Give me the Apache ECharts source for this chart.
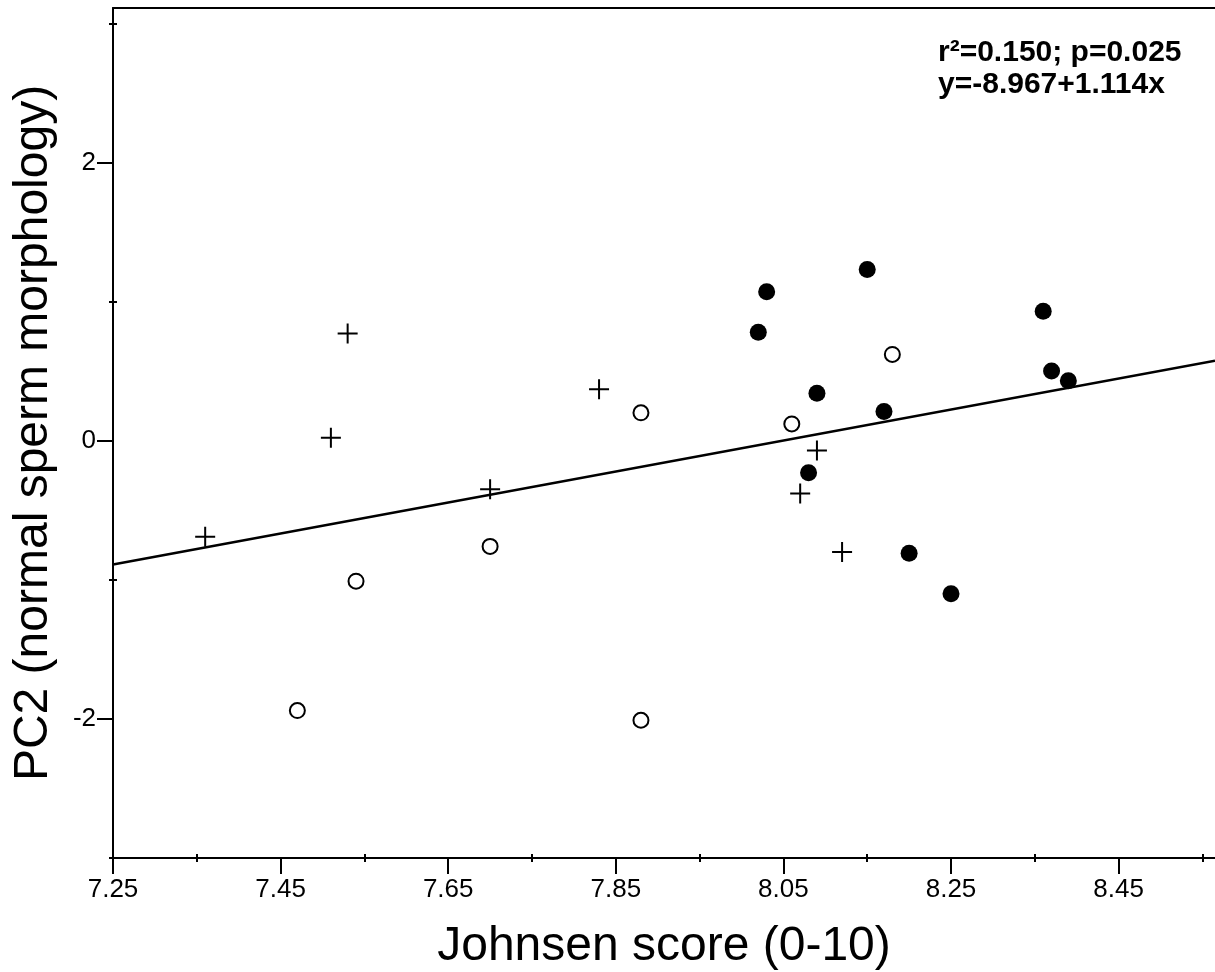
<!DOCTYPE html>
<html>
<head>
<meta charset="utf-8">
<script src="https://cdn.jsdelivr.net/npm/echarts@6/dist/echarts.min.js"></script>
<style>
  html, body { margin: 0; padding: 0; background: #fff; }
  #chart { width: 1215px; height: 972px; }
</style>
</head>
<body>
<div id="chart"></div>
<script>
// values
const crossX = [7.36, 7.53, 7.51, 7.70, 7.83, 8.09, 8.07, 8.12]
const crossY = [-0.69, 0.77, 0.02, -0.35, 0.37, -0.07, -0.38, -0.80]

const openX = [7.47, 7.54, 7.70, 7.88, 7.88, 8.06, 8.18]
const openY = [-1.94, -1.01, -0.76, 0.20, -2.01, 0.12, 0.62]

const filledX = [8.03, 8.02, 8.15, 8.36, 8.37, 8.39, 8.09, 8.17, 8.08, 8.20, 8.25]
const filledY = [1.07, 0.78, 1.23, 0.93, 0.50, 0.43, 0.34, 0.21, -0.23, -0.81, -1.10]

// regression from the figure's annotation
const intercept = -8.967
const slope = 1.114

const xMin = 7.25
const xMax = 8.565
const yMin = -3
const yMax = 3.11

const xMajorTicks = [7.25, 7.45, 7.65, 7.85, 8.05, 8.25, 8.45]
const xMinorTicks = [7.35, 7.55, 7.75, 7.95, 8.15, 8.35, 8.55]
const yMajorTicks = [-2, 0, 2]
const yMinorTicks = [-3, -1, 1, 3]

const statText = 'r²=0.150; p=0.025\ny=-8.967+1.114x'

const FONT = '"Liberation Sans", Arial, Helvetica, sans-serif'
const INK = '#000'

const zip = (xs, ys) => xs.map((x, i) => [x, ys[i]])

// bare axis used only to draw a set of ticks
function tickAxis(pos, min, max, values, opts) {
  return {
    type: 'value',
    position: pos,
    offset: opts.offset || 0,
    min: min,
    max: max,
    axisLine: { show: false, onZero: false },
    axisTick: { show: true, inside: !!opts.inside, length: opts.length, lineStyle: { color: INK, width: 2 }, customValues: values },
    axisLabel: { show: false },
    splitLine: { show: false },
  }
}

const chart = echarts.init(document.getElementById('chart'))

chart.setOption({
  animation: false,
  backgroundColor: '#fff',
  grid: { left: 113, right: 0, top: 8, bottom: 114, containLabel: false, outerBoundsMode: 'none' },
  xAxis: [
    {
      type: 'value',
      position: 'bottom',
      min: xMin,
      max: xMax,
      name: 'Johnsen score (0-10)',
      nameLocation: 'middle',
      nameGap: 65,
      nameTextStyle: { color: INK, fontFamily: FONT, fontSize: 48 },
      axisLine: { show: true, onZero: false, lineStyle: { color: INK, width: 2 } },
      axisTick: { show: true, inside: false, length: 16, lineStyle: { color: INK, width: 2 }, customValues: xMajorTicks },
      axisLabel: {
        color: INK, fontFamily: FONT, fontSize: 26, margin: 19,
        customValues: xMajorTicks,
        formatter: (v) => v.toFixed(2),
      },
      splitLine: { show: false },
    },
    // small ticks crossing the bottom axis
    tickAxis('bottom', xMin, xMax, xMinorTicks, { offset: 4, inside: true, length: 8 }),
    {
      // top frame line
      type: 'value',
      position: 'top',
      min: xMin,
      max: xMax,
      axisLine: { show: true, onZero: false, lineStyle: { color: INK, width: 2 } },
      axisTick: { show: false },
      axisLabel: { show: false },
      splitLine: { show: false },
    },
  ],
  yAxis: [
    {
      type: 'value',
      position: 'left',
      min: yMin,
      max: yMax,
      name: 'PC2 (normal sperm morphology)',
      nameLocation: 'middle',
      nameGap: 55,
      nameTextStyle: { color: INK, fontFamily: FONT, fontSize: 48 },
      axisLine: { show: true, onZero: false, lineStyle: { color: INK, width: 2 } },
      axisTick: { show: true, inside: false, length: 16, lineStyle: { color: INK, width: 2 }, customValues: yMajorTicks },
      axisLabel: { color: INK, fontFamily: FONT, fontSize: 26, margin: 17, customValues: yMajorTicks },
      splitLine: { show: false },
    },
    // small ticks crossing the left axis
    tickAxis('left', yMin, yMax, yMinorTicks, { offset: 4, inside: true, length: 8 }),
  ],
  graphic: [
    {
      type: 'text',
      left: 938,
      top: 37,
      style: {
        text: statText,
        fill: INK,
        font: 'bold 30px ' + FONT,
        lineHeight: 32,
      },
    },
  ],
  series: [
    {
      name: 'fit',
      type: 'line',
      xAxisIndex: 0,
      yAxisIndex: 0,
      data: [xMin, xMax].map((x) => [x, intercept + slope * x]),
      symbol: 'none',
      lineStyle: { color: INK, width: 2.5 },
      z: 1,
    },
    {
      name: 'filled',
      type: 'scatter',
      data: zip(filledX, filledY),
      symbol: 'circle',
      symbolSize: 17,
      itemStyle: { color: INK, opacity: 1 },
      z: 2,
    },
    {
      name: 'open',
      type: 'scatter',
      data: zip(openX, openY),
      symbol: 'circle',
      symbolSize: 15,
      itemStyle: { color: '#fff', borderColor: INK, borderWidth: 2, opacity: 1 },
      z: 3,
    },
    {
      name: 'cross',
      type: 'scatter',
      data: zip(crossX, crossY),
      symbol: 'path://M0,10L20,10M10,0L10,20',
      symbolSize: 20,
      itemStyle: { color: 'none', borderColor: INK, borderWidth: 2, opacity: 1 },
      z: 4,
    },
  ],
})
</script>
</body>
</html>
